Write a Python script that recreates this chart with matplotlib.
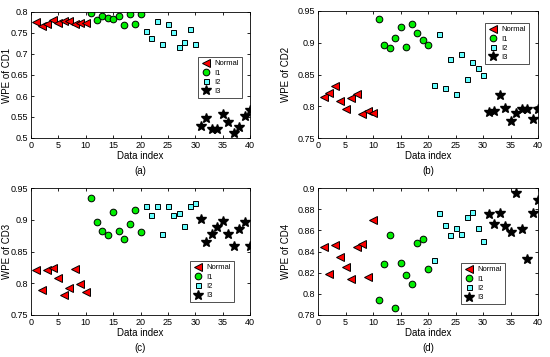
import numpy as np
import matplotlib.pyplot as plt

idx_normal = np.arange(1, 11)
idx_i1 = np.arange(11, 21)
idx_i2 = np.arange(21, 31)
idx_i3 = np.arange(31, 41)

# CD1
cd1_normal = [0.776, 0.767, 0.771, 0.780, 0.774, 0.779, 0.779, 0.772, 0.774, 0.774]
cd1_i1 = [0.798, 0.781, 0.791, 0.786, 0.783, 0.790, 0.770, 0.796, 0.772, 0.796]
cd1_i2 = [0.754, 0.738, 0.779, 0.725, 0.772, 0.752, 0.716, 0.729, 0.759, 0.723]
cd1_i3 = [0.529, 0.548, 0.521, 0.522, 0.558, 0.538, 0.513, 0.526, 0.552, 0.566]

# CD2
cd2_normal = [0.814, 0.821, 0.832, 0.809, 0.795, 0.813, 0.819, 0.788, 0.792, 0.789]
cd2_i1 = [0.937, 0.896, 0.892, 0.908, 0.925, 0.894, 0.929, 0.915, 0.905, 0.896]
cd2_i2 = [0.834, 0.913, 0.828, 0.875, 0.820, 0.882, 0.843, 0.870, 0.860, 0.850]
cd2_i3 = [0.791, 0.792, 0.818, 0.797, 0.777, 0.790, 0.796, 0.795, 0.780, 0.796]

# CD3
cd3_normal = [0.821, 0.790, 0.821, 0.824, 0.809, 0.782, 0.792, 0.823, 0.799, 0.787]
cd3_i1 = [0.935, 0.896, 0.883, 0.876, 0.912, 0.883, 0.869, 0.893, 0.916, 0.880]
cd3_i2 = [0.921, 0.908, 0.922, 0.877, 0.921, 0.907, 0.911, 0.890, 0.921, 0.926]
cd3_i3 = [0.901, 0.865, 0.878, 0.888, 0.898, 0.877, 0.858, 0.885, 0.897, 0.858]

# CD4
cd4_normal = [0.844, 0.819, 0.846, 0.835, 0.825, 0.814, 0.844, 0.847, 0.816, 0.870]
cd4_i1 = [0.794, 0.828, 0.856, 0.787, 0.829, 0.818, 0.809, 0.848, 0.852, 0.823]
cd4_i2 = [0.832, 0.876, 0.865, 0.856, 0.862, 0.857, 0.873, 0.877, 0.862, 0.850]
cd4_i3 = [0.875, 0.866, 0.876, 0.864, 0.858, 0.895, 0.861, 0.833, 0.876, 0.889]

panels = [
    ("WPE of CD1", "(a)", (cd1_normal, cd1_i1, cd1_i2, cd1_i3), (0.5, 0.8), np.arange(0.5, 0.81, 0.05)),
    ("WPE of CD2", "(b)", (cd2_normal, cd2_i1, cd2_i2, cd2_i3), (0.75, 0.95), np.arange(0.75, 0.951, 0.05)),
    ("WPE of CD3", "(c)", (cd3_normal, cd3_i1, cd3_i2, cd3_i3), (0.75, 0.95), np.arange(0.75, 0.951, 0.05)),
    ("WPE of CD4", "(d)", (cd4_normal, cd4_i1, cd4_i2, cd4_i3), (0.78, 0.9), np.arange(0.78, 0.901, 0.02)),
]

# axes rectangles in pixels (left, top, right, bottom)
W, H = 550.0, 357.0
boxes = [(31, 12, 250, 138), (318, 11, 538, 138), (31, 188, 250, 315), (318, 188, 538, 315)]
legend_pos = [(0.763, 0.643), (0.759, 0.906), (0.726, 0.425), (0.650, 0.409)]
ylab_x = [-0.087, -0.123, -0.087, -0.123]

plt.rcParams['font.family'] = 'Liberation Sans'

fig = plt.figure(figsize=(5.5, 3.57), dpi=100)
for (ylab, tag, series, ylim, yticks), (x0, y0, x1, y1), lpos, lx in zip(panels, boxes, legend_pos, ylab_x):
    ax = fig.add_axes([x0 / W, 1 - y1 / H, (x1 - x0) / W, (y1 - y0) / H])
    n, a1, a2, a3 = series
    ax.plot(idx_normal, n, '<', color='red', mec='black', mew=0.7, ms=5.5, label='Normal')
    ax.plot(idx_i1, a1, 'o', color='#00ee00', mec='black', mew=0.7, ms=4.8, label='I1')
    ax.plot(idx_i2, a2, 's', color='#66ffff', mec='black', mew=0.7, ms=3.6, label='I2')
    ax.plot(idx_i3, a3, '*', color='black', ms=7.5, label='I3')
    ax.set_xlim(0, 40)
    ax.set_ylim(*ylim)
    ax.set_xticks(np.arange(0, 41, 5))
    ax.set_yticks(yticks)
    ax.set_yticklabels(["%g" % round(v, 2) for v in yticks])
    ax.tick_params(direction='in', top=True, right=True, labelsize=6.5, length=2.5, width=0.6, pad=2)
    for s in ax.spines.values():
        s.set_linewidth(0.6)
    ax.set_ylabel(ylab, fontsize=7)
    ax.yaxis.set_label_coords(lx, 0.5)
    ax.set_xlabel("Data index\n" + tag, fontsize=7, labelpad=1, linespacing=1.6)
    leg = ax.legend(loc='upper left', bbox_to_anchor=lpos, fontsize=5.5, frameon=True,
                    fancybox=False, edgecolor='black', borderpad=0.4, handletextpad=0.4,
                    labelspacing=0.25, handlelength=1.3, markerscale=1.0, borderaxespad=0)
    leg.get_frame().set_linewidth(0.6)

fig.savefig("out.png", dpi=100)
